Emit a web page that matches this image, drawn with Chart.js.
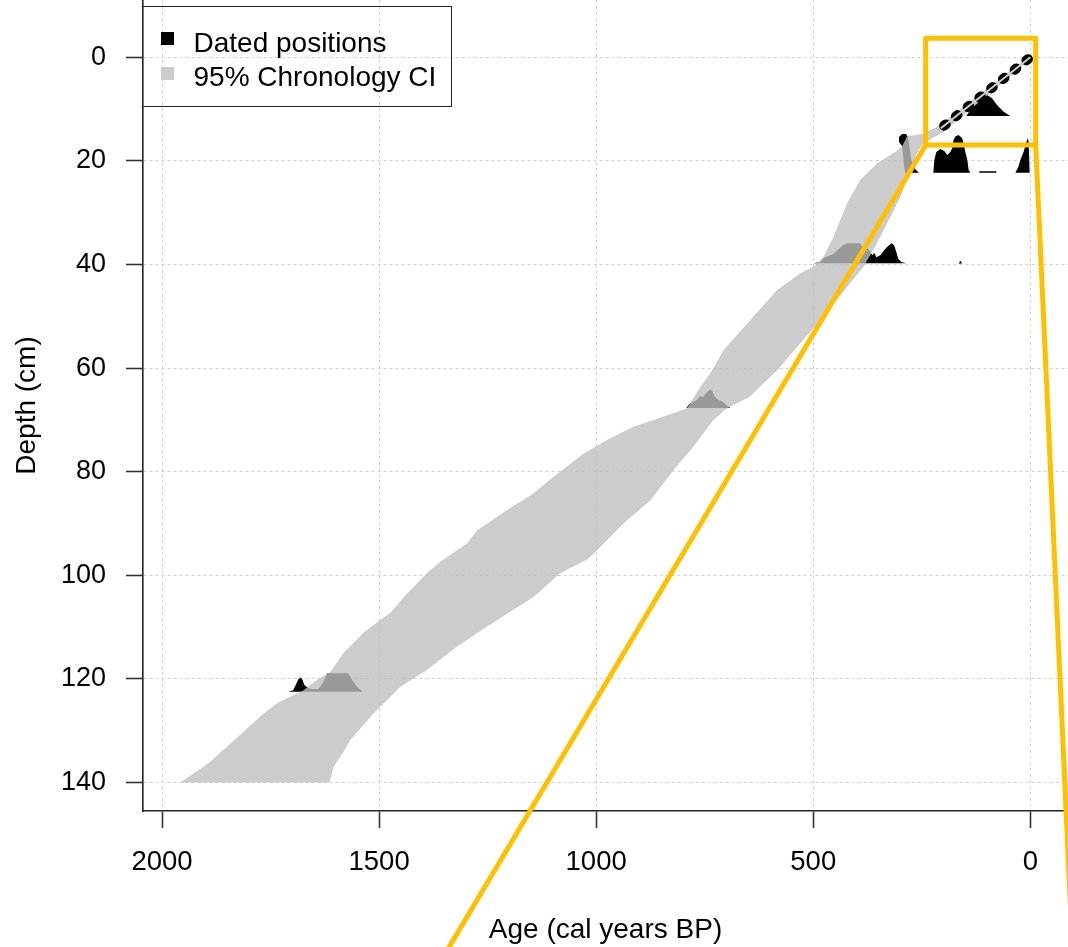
<!DOCTYPE html>
<html><head><meta charset="utf-8">
<script src="https://cdn.jsdelivr.net/npm/chart.js@4.4.1/dist/chart.umd.min.js"></script>
<style>
html,body{margin:0;padding:0;background:#fff;overflow:hidden;}
#wrap{position:relative;width:1068px;height:947px;}
#c{position:absolute;left:0;top:0;}
#legend{position:absolute;left:142px;top:6px;width:310px;height:101px;box-sizing:border-box;border:1.6px solid #222;background:transparent;font-family:"Liberation Sans",Arial,sans-serif;font-size:28px;color:#000;}
.sw{position:absolute;left:17.5px;width:13px;height:13px;}
.lt{position:absolute;left:50.5px;line-height:30px;white-space:nowrap;}
</style></head><body>
<div id="wrap"><canvas id="c" width="1068" height="947"></canvas>
<div id="legend">
<div class="sw" style="top:24.5px;background:#000"></div><div class="lt" style="top:20.5px">Dated positions</div>
<div class="sw" style="top:59.5px;background:#cccccc"></div><div class="lt" style="top:54.5px">95% Chronology CI</div>
</div></div>
<script>
// ---- axis ticks ----
const xTicks = [0, 500, 1000, 1500, 2000];
const xTickLabels = ['0', '500', '1000', '1500', '2000'];
const yTicks = [0, 20, 40, 60, 80, 100, 120, 140];
const yTickLabels = ['0', '20', '40', '60', '80', '100', '120', '140'];

// ---- 95% chronology CI: older (left) edge, bottom -> top ----
const ciOlderAge = [1958,1893,1843,1766,1735,1689,1674,1643,1612,1582,1536,1497,1474,1443,1390,1359,1297,1274,1205,1145,1110,1029,975,914,868,791,760,737,706,645,583,530,499,476,453,422,392,353,315,296,284,246,215,0];
const ciOlderDepth = [140,136.3,132.5,126.7,124.7,122.8,122.2,120.2,118.6,115.0,111.1,108.6,107.3,104.2,99.6,97.4,93.8,91.3,87.4,84.2,81.8,76.5,73.9,71.3,70.0,67.8,63.6,61.0,56.5,50.7,44.9,41.7,40.4,38.5,34.6,28.2,23.7,20.5,18.5,17.3,15.3,14.7,13.4,-0.4];
// ---- younger (right) edge, top -> bottom ----
const ciYoungerAge = [0,200,225,246,261,276,299,322,353,384,415,476,530,583,630,645,699,730,776,822,875,937,990,1018,1083,1144,1205,1251,1321,1390,1451,1513,1566,1582,1605,1614];
const ciYoungerDepth = [0.4,14.4,15.6,16.6,18.5,21.8,26.9,30.8,35.9,40.4,43.6,50.1,55.2,60.4,64.2,65.5,67.8,70.0,75.2,79.7,85.5,90.0,94.5,96.8,99.6,104.2,107.4,109.9,113.8,118.3,121.5,126.7,131.8,134.1,137.0,140];

// ---- dated positions (calibrated age distributions) ----
const date11Age = [147.4,134.3,119.1,107.6,99.7,88.2,76.7,61.5,46.1];
const date11Depth = [11.33,9.65,8.57,7.72,7.28,7.92,9.21,10.5,11.33];
const date22aAge = [288.6,290.9,293.2,295.5,302.4,302.4,295.5,286.3,281.7,279.4,277.1,274.8,270.2,263.3,256.4];
const date22aDepth = [22.28,20.80,18.86,17.13,16.35,15.39,14.81,14.81,15.39,16.55,17.90,19.44,20.99,21.76,22.28];
const date22bAge = [223.4,221.1,216.5,207.3,198.1,191.2,184.3,179.7,176.7,172.7,165.2,157.3,153.6,149.7,145.1,142.1,138.2];
const date22bDepth = [22.28,19.83,18.29,17.71,18.09,18.86,18.29,17.51,15.97,15.29,15.0,15.58,16.55,18.29,19.83,21.76,22.28];
const date22cAge = [117.5,117.5,78.3,78.3];
const date22cDepth = [22.28,22.0,22.0,22.28];
const date22dAge = [34.5,27.6,23.0,18.4,15.4,11.5,7.6,6.2,3.9,2.8,1.6];
const date22dDepth = [22.28,21.18,19.83,18.86,18.23,17.13,15.97,15.33,16.35,18.86,22.28];
const date40Age = [499.8,483.7,476.8,453.8,430.7,421.5,391.6,387,373.1,363.9,359.3,354.7,345.5,336.3,327.1,318.6,313.3,308.7,304.1,297.1,285.6];
const date40Depth = [39.78,39.5,38.8,37.98,36.24,35.91,35.91,36.57,37.0,38.2,37.8,38.6,38.2,37.2,36.4,35.9,36.4,37.6,38.9,39.5,39.78];
const date40bAge = [165,161,157];
const date40bDepth = [39.8,39.3,39.8];
const date68Age = [792.4,785.5,776.3,769.3,760,753.2,746.3,741.7,737,732.5,727.9,718.6,709.4,700.2,691];
const date68Depth = [67.72,66.95,66.56,66.17,65.40,65.59,64.82,64.44,64.14,64.44,65.40,66.17,66.46,67.14,67.72];
const date122Age = [1709,1698,1691,1686,1681,1677,1672,1663,1651,1640,1631,1619,1571,1562,1550,1537];
const date122Depth = [122.5,122.2,121.0,120.05,119.75,120.05,121.2,121.8,122.0,121.97,121.0,118.9,118.9,120.2,121.6,122.5];

// ---- modelled age-depth segment (top) ----
const topLineAge = [0, 206];
const topLineDepth = [0, 13.7];

// ---- zoom box and connector lines (in age / depth units) ----
const zoomBoxAge = [241, -12.4];
const zoomBoxDepth = [-3.67, 16.93];
const connLeftAge = [241, 1339];
const connLeftDepth = [16.93, 171.8];
const connRightAge = [-12.4, -96.7];
const connRightDepth = [16.93, 171.8];

function pts(a, d) { return a.map((v, i) => ({x: v, y: d[i]})); }
const bandPoly = pts(ciOlderAge, ciOlderDepth).concat(pts(ciYoungerAge, ciYoungerDepth));
const boxPoly = [
  {x: zoomBoxAge[0], y: zoomBoxDepth[0]}, {x: zoomBoxAge[1], y: zoomBoxDepth[0]},
  {x: zoomBoxAge[1], y: zoomBoxDepth[1]}, {x: zoomBoxAge[0], y: zoomBoxDepth[1]},
  {x: zoomBoxAge[0], y: zoomBoxDepth[0]}
];

function poly(data, color, order) {
  return {type: 'line', data, fill: 'shape', backgroundColor: color, borderColor: 'rgba(0,0,0,0)',
          borderWidth: 0, pointRadius: 0, tension: 0, order};
}
function yellow(data) {
  return {type: 'line', data, fill: false, borderColor: '#FFC000', borderWidth: 5, pointRadius: 0,
          tension: 0, clip: false, borderJoinStyle: 'round', borderCapStyle: 'round', order: 0};
}

const datasets = [
  yellow(boxPoly),
  yellow(pts(connLeftAge, connLeftDepth)),
  yellow(pts(connRightAge, connRightDepth)),
  {type: 'line', data: pts(topLineAge, topLineDepth), borderColor: '#cfcfcf', borderWidth: 2, pointRadius: 0, fill: false, order: 1},
  {type: 'line', data: pts(topLineAge, topLineDepth), borderColor: '#000', borderWidth: 10, pointRadius: 0, fill: false,
   borderDash: [2, 13], borderDashOffset: -3, borderCapStyle: 'round', order: 2},
  poly(bandPoly, 'rgba(191,191,191,0.8)', 3),
  poly(pts(date11Age, date11Depth), '#000', 4),
  poly(pts(date22aAge, date22aDepth), '#000', 4),
  poly(pts(date22bAge, date22bDepth), '#000', 4),
  poly(pts(date22cAge, date22cDepth), '#000', 4),
  poly(pts(date22dAge, date22dDepth), '#000', 4),
  poly(pts(date40Age, date40Depth), '#000', 4),
  poly(pts(date40bAge, date40bDepth), '#000', 4),
  poly(pts(date68Age, date68Depth), '#000', 4),
  poly(pts(date122Age, date122Depth), '#000', 4)
];

Chart.defaults.font.family = '"Liberation Sans", Arial, sans-serif';
Chart.defaults.color = '#000';

new Chart(document.getElementById('c'), {
  type: 'line',
  data: {datasets},
  options: {
    responsive: false, animation: false, devicePixelRatio: 1, events: [],
    indexAxis: 'y',
    layout: {padding: 0, autoPadding: false},
    plugins: {legend: {display: false}, tooltip: {enabled: false}},
    scales: {
      x: {
        type: 'linear', position: 'bottom', reverse: true, min: -86.8, max: 2043.8,
        afterBuildTicks: s => { s.ticks = xTicks.map(v => ({value: v})); },
        afterFit: s => { s.height = 136; s.paddingLeft = 0; s.paddingRight = 0; },
        ticks: {callback: v => xTickLabels[xTicks.indexOf(v)], font: {size: 27.5}, color: '#000', padding: 18, maxRotation: 0, autoSkip: false},
        grid: {color: '#d0d0d0', lineWidth: 1, tickLength: 17, tickColor: '#333', tickWidth: 1.6},
        border: {display: true, color: '#222', width: 1.6, dash: [3, 3]},
        title: {display: true, text: 'Age (cal years BP)', font: {size: 28}, color: '#000', padding: {top: 0, bottom: 0}}
      },
      y: {
        type: 'linear', position: 'left', reverse: true, min: -11.06, max: 145.5,
        afterBuildTicks: s => { s.ticks = yTicks.map(v => ({value: v})); },
        afterFit: s => { s.width = 143; s.paddingTop = 0; s.paddingBottom = 0; },
        ticks: {callback: v => yTickLabels[yTicks.indexOf(v)], font: {size: 27}, color: '#000', padding: 20, autoSkip: false},
        grid: {color: '#d0d0d0', lineWidth: 1, tickLength: 17, tickColor: '#333', tickWidth: 1.6},
        border: {display: true, color: '#222', width: 1.6, dash: [3, 3]},
        title: {display: true, text: 'Depth (cm)', font: {size: 28}, color: '#000', padding: {top: 10, bottom: 0}}
      }
    }
  }
});
</script>
</body></html>
